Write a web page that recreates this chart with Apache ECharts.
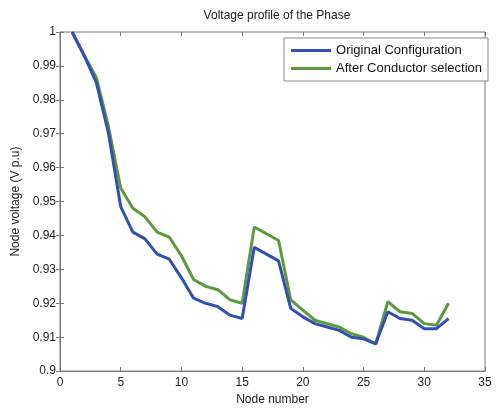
<!DOCTYPE html>
<html><head><meta charset="utf-8">
<script src="https://cdn.jsdelivr.net/npm/echarts@6/dist/echarts.min.js"></script>
<style>html,body{margin:0;padding:0;background:#fff}#c{width:502px;height:411px}</style>
</head><body><div id="c"></div>
<script>
const nodes = [1,2,3,4,5,6,7,8,9,10,11,12,13,14,15,16,17,18,19,20,21,22,23,24,25,26,27,28,29,30,31,32];
const original = [1.0,0.993,0.985,0.970,0.9485,0.941,0.939,0.9345,0.933,0.9275,0.9215,0.920,0.919,0.9165,0.9155,0.9365,0.9345,0.9325,0.9185,0.916,0.914,0.913,0.912,0.910,0.9095,0.908,0.9175,0.9155,0.915,0.9125,0.9125,0.9155];
const after = [1.0,0.993,0.9865,0.972,0.954,0.948,0.9455,0.941,0.9395,0.934,0.927,0.925,0.924,0.921,0.920,0.9425,0.9405,0.9385,0.921,0.918,0.915,0.914,0.913,0.911,0.910,0.908,0.9205,0.9175,0.917,0.914,0.9135,0.920];
const yTicks = [0.9,0.91,0.92,0.93,0.94,0.95,0.96,0.97,0.98,0.99,1];
const xTicks = [0,5,10,15,20,25,30,35];
const seriesNames = ['Original Configuration','After Conductor selection'];

const chart = echarts.init(document.getElementById('c'));
const axisCol = '#777';
const font = 'Liberation Sans, Arial, sans-serif';
chart.setOption({
  animation:false,
  title:{text:'Voltage profile of the Phase',left:272,textAlign:'center',top:5,
    textStyle:{fontSize:12,fontWeight:'normal',color:'#222',fontFamily:font}},
  grid:{left:60,right:17,top:32,bottom:38,show:true,borderColor:axisCol,borderWidth:1},
  legend:{right:14,top:38,orient:'vertical',itemWidth:40,itemHeight:3,itemGap:5,
    borderColor:'#888',borderWidth:1,padding:[6,6,6,7],backgroundColor:'#fff',
    textStyle:{fontSize:13,color:'#111',fontFamily:font},
    icon:'rect',data:seriesNames},
  xAxis:[{type:'value',min:0,max:35,interval:5,name:'Node number',nameLocation:'middle',nameGap:20,
    nameTextStyle:{fontSize:12,color:'#222',fontFamily:font},
    axisLine:{lineStyle:{color:axisCol}},axisTick:{inside:true,length:4,lineStyle:{color:axisCol}},
    axisLabel:{fontSize:12,color:'#222',margin:6,fontFamily:font},splitLine:{show:false}},
    {type:'value',position:'top',min:0,max:35,interval:5,axisLine:{show:false},
    axisTick:{inside:true,length:4,lineStyle:{color:axisCol}},axisLabel:{show:false},splitLine:{show:false}}],
  yAxis:[{type:'value',min:0.9,max:1,interval:0.01,name:'Node voltage (V p.u)',nameLocation:'middle',nameGap:38,
    nameTextStyle:{fontSize:12,color:'#222',fontFamily:font},
    axisLine:{show:true,lineStyle:{color:axisCol}},axisTick:{show:true,inside:true,length:4,lineStyle:{color:axisCol}},
    axisLabel:{fontSize:12,color:'#222',margin:4,fontFamily:font,formatter:v=>String(+v.toFixed(2))},splitLine:{show:false}},
    {type:'value',position:'right',min:0.9,max:1,interval:0.01,axisLine:{show:false},
    axisTick:{show:true,inside:true,length:4,lineStyle:{color:axisCol}},axisLabel:{show:false},splitLine:{show:false}}],
  series:[
    {name:seriesNames[0],type:'line',data:nodes.map((n,i)=>[n,original[i]]),symbol:'none',
      lineStyle:{color:'#2f4fb5',width:3},itemStyle:{color:'#2f4fb5'},z:3},
    {name:seriesNames[1],type:'line',data:nodes.map((n,i)=>[n,after[i]]),symbol:'none',
      lineStyle:{color:'#5b9a3e',width:3},itemStyle:{color:'#5b9a3e'},z:2}
  ]
});
</script></body></html>
